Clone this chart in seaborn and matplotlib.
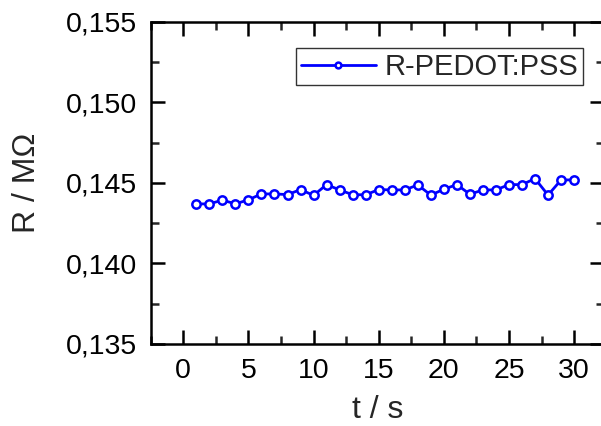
import matplotlib
matplotlib.use("Agg")
import matplotlib.pyplot as plt
import seaborn as sns
import pandas as pd
from matplotlib.ticker import MultipleLocator, FuncFormatter

t = list(range(1, 31))
r = [0.14370, 0.14370, 0.14394, 0.14370, 0.14396, 0.14432, 0.14432, 0.14428,
     0.14459, 0.14423, 0.14490, 0.14457, 0.14427, 0.14427, 0.14459, 0.14457,
     0.14457, 0.14488, 0.14425, 0.14461, 0.14490, 0.14430, 0.14457, 0.14457,
     0.14490, 0.14490, 0.14527, 0.14425, 0.14519, 0.14519]
label = "R-PEDOT:PSS"

df = pd.DataFrame({"t / s": t, "R / MΩ": r, "series": label})

sns.set_style("ticks")
plt.rcParams['font.family'] = ['Liberation Sans', 'DejaVu Sans']

fig = plt.figure(figsize=(6.01, 4.26), dpi=100)
ax = fig.add_axes([0.2508, 0.1925, 0.7543, 0.7559])

sns.lineplot(data=df, x="t / s", y="R / MΩ", hue="series", palette=["#0000ff"],
             marker="o", markersize=6, markerfacecolor="white", markeredgecolor="#0000ff",
             markeredgewidth=1.8, linewidth=2, ax=ax)

ax.set_xlim(-2.5, 32.3)
ax.set_ylim(0.135, 0.155)
ax.xaxis.set_major_locator(MultipleLocator(5))
ax.xaxis.set_minor_locator(MultipleLocator(2.5))
ax.yaxis.set_major_locator(MultipleLocator(0.005))
ax.yaxis.set_minor_locator(MultipleLocator(0.0025))
ax.yaxis.set_major_formatter(FuncFormatter(lambda v, p: f"{v:.3f}".replace(".", ",")))

for s in ax.spines.values():
    s.set_visible(True)
    s.set_linewidth(1.8)
    s.set_color("black")

ax.tick_params(which="major", direction="in", length=10, width=1.8, labelsize=20.5,
               top=True, right=True, pad=10, colors="black")
ax.tick_params(which="minor", direction="in", length=5.5, width=1.8,
               top=True, right=True)

ax.set_xlabel("t / s", fontsize=23, labelpad=8)
ax.set_ylabel("R / MΩ", fontsize=23, labelpad=17)

leg = ax.legend(loc="upper right", bbox_to_anchor=(0.954, 0.918), borderaxespad=0,
                fontsize=21, frameon=True, fancybox=False, handlelength=2.6,
                handletextpad=0.3, borderpad=0.15, markerscale=0.7)
leg.get_frame().set_edgecolor("black")
leg.get_frame().set_linewidth(1.0)

fig.savefig("out.png", dpi=100)
